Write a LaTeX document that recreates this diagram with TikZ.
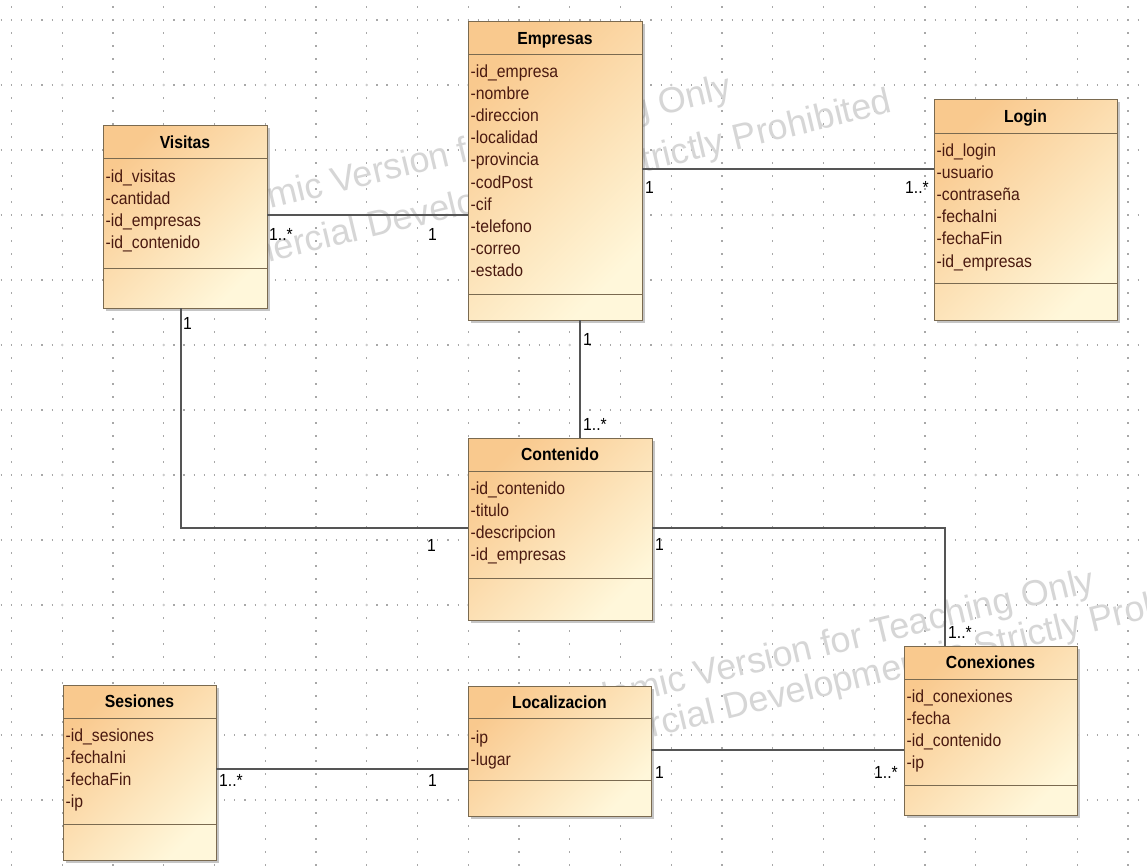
\documentclass[tikz,border=0pt]{standalone}
\usepackage{fontspec}
\usetikzlibrary{shadows}
\newfontfamily\umlfont[FakeStretch=0.9]{Liberation Sans}
\newfontfamily\markfont{Liberation Sans}

\definecolor{clsA}{HTML}{F9C98E}
\definecolor{clsB}{HTML}{FFF7DA}
\definecolor{clsborder}{HTML}{7A6A50}
\definecolor{attrcol}{HTML}{4A1A10}
\definecolor{linecol}{HTML}{555555}
\definecolor{gridcol}{HTML}{A8A8A8}
\definecolor{markcol}{HTML}{D6D6D6}

% class box: frame node plus the two compartment separators
\newcommand\umlclass[7]{%
  \node[classbox, anchor=north west, minimum width={(#4)-(#2)}, minimum height={(#5)-(#3)}] (#1) at (#2,#3) {};
  \draw[sepline] (#1.west |- 0,#6) -- (#1.east |- 0,#6);
  \draw[sepline] (#1.west |- 0,#7) -- (#1.east |- 0,#7);
}
\newcommand\umltitle[4]{\node[titletext, anchor=base] (#1t) at (#2,#3) {#4};}
\newcommand\umlattrs[4]{%
  \foreach \a [count=\i from 0] in {#4}
    \node[attrtext, anchor=base west] (#1a\i) at (#2,{#3+22.2*\i}) {\a};
}

\begin{document}
\begin{tikzpicture}[x=1pt,y=-1pt,
  classbox/.style={draw=clsborder, line width=1pt, top color=clsA, bottom color=clsB,
    shading angle=45, inner sep=0pt, outer sep=0pt,
    drop shadow={opacity=0.45, shadow xshift=3pt, shadow yshift=-3pt}},
  sepline/.style={draw=clsborder, line width=1pt},
  titletext/.style={inner sep=0pt, font=\umlfont\bfseries\fontsize{17.5}{21}\selectfont},
  attrtext/.style={inner sep=0pt, text=attrcol, font=\umlfont\fontsize{17.5}{21}\selectfont},
  mult/.style={inner sep=0pt, font=\umlfont\fontsize{17.5}{21}\selectfont},
  assoc/.style={draw=linecol, line width=1.3pt},
  hdots/.style={draw=gridcol, line width=1.2pt, dash pattern=on 1.2pt off 8.95pt},
  vdots/.style={draw=gridcol, line width=1.2pt, dash pattern=on 1.2pt off 11.8pt},
  wmark/.style={inner sep=0pt, text=markcol, rotate=13.5, anchor=base west,
    font=\markfont\fontsize{36}{40}\selectfont}
]
\useasboundingbox (0,0) rectangle (1147,865);
\fill[white] (0,0) rectangle (1147,865);

% dotted drawing grid
\begin{scope}
\clip (0,0) rectangle (1147,865);
\foreach \k in {0,...,12} \draw[hdots] (-39.85,{20+65*\k}) -- (1200,{20+65*\k});
\foreach \k in {0,...,22} \draw[vdots] ({11.5+50.75*\k},-45.6) -- ({11.5+50.75*\k},900);
\foreach \c in {1,3,...,21} \foreach \r in {1,3,...,11}
  \fill[gridcol!120!black] ({11.5+50.75*\c},{20+65*\r}) circle (1.4);

% watermark text
\node[wmark] (wm1a) at (170.8,232.8) {Academic Version for Teaching Only};
\node[wmark] (wm1b) at (173.6,285.1) {Commercial Development is Strictly Prohibited};
\node[wmark] (wm2a) at (534,726) {Academic Version for Teaching Only};
\node[wmark] (wm2b) at (530,767) {Commercial Development is Strictly Prohibited};
\end{scope}

% classes
\umlclass{empresas}{468}{21}{642}{320}{54}{294}
\umltitle{empresas}{555}{44}{Empresas}
\umlattrs{empresas}{470.5}{77}{-id\_empresa,-nombre,-direccion,-localidad,-provincia,-codPost,-cif,-telefono,-correo,-estado}

\umlclass{visitas}{103}{125}{267}{308}{158}{268}
\umltitle{visitas}{185}{148}{Visitas}
\umlattrs{visitas}{105.5}{182}{-id\_visitas,-cantidad,-id\_empresas,-id\_contenido}

\umlclass{login}{934}{99}{1117}{320}{133}{283}
\umltitle{login}{1025.5}{122}{Login}
\umlattrs{login}{936.5}{156}{-id\_login,-usuario,-contraseña,-fechaIni,-fechaFin,-id\_empresas}

\umlclass{contenido}{468}{438}{652}{620}{471}{578}
\umltitle{contenido}{560}{460.5}{Contenido}
\umlattrs{contenido}{470.5}{494}{-id\_contenido,-titulo,-descripcion,-id\_empresas}

\umlclass{sesiones}{63}{685}{216}{860}{718}{824}
\umltitle{sesiones}{139.5}{707.5}{Sesiones}
\umlattrs{sesiones}{65.5}{741}{-id\_sesiones,-fechaIni,-fechaFin,-ip}

\umlclass{localizacion}{468}{686}{651}{816}{718}{780}
\umltitle{localizacion}{559.5}{708}{Localizacion}
\umlattrs{localizacion}{470.5}{743}{-ip,-lugar}

\umlclass{conexiones}{904}{646}{1077}{815}{679}{785}
\umltitle{conexiones}{990.5}{668.5}{Conexiones}
\umlattrs{conexiones}{906.5}{702}{-id\_conexiones,-fecha,-id\_contenido,-ip}

% associations
\draw[assoc] (visitas.east |- 0,215) -- (empresas.west |- 0,215);
\draw[assoc] (empresas.east |- 0,169) -- (login.west |- 0,169);
\draw[assoc] (empresas.south -| 580,0) -- (contenido.north -| 580,0);
\draw[assoc] (visitas.south -| 181,0) |- (contenido.west |- 0,528);
\draw[assoc] (contenido.east |- 0,528) -| (conexiones.north -| 945,0);
\draw[assoc] (sesiones.east |- 0,769) -- (localizacion.west |- 0,769);
\draw[assoc] (localizacion.east |- 0,750) -- (conexiones.west |- 0,750);

% multiplicities
\node[mult, anchor=base west] (m1) at (269,240) {1..*};
\node[mult, anchor=base west] (m2) at (428,240) {1};
\node[mult, anchor=base west] (m3) at (645,193) {1};
\node[mult, anchor=base east] (m4) at (929,193) {1..*};
\node[mult, anchor=base west] (m5) at (583,345) {1};
\node[mult, anchor=base west] (m6) at (583,430) {1..*};
\node[mult, anchor=base west] (m7) at (183,329) {1};
\node[mult, anchor=base west] (m8) at (427,551) {1};
\node[mult, anchor=base west] (m9) at (655,550) {1};
\node[mult, anchor=base west] (m10) at (948,638) {1..*};
\node[mult, anchor=base west] (m11) at (219,786) {1..*};
\node[mult, anchor=base west] (m12) at (428,786) {1};
\node[mult, anchor=base west] (m13) at (655,778) {1};
\node[mult, anchor=base east] (m14) at (898,778) {1..*};
\end{tikzpicture}
\end{document}
